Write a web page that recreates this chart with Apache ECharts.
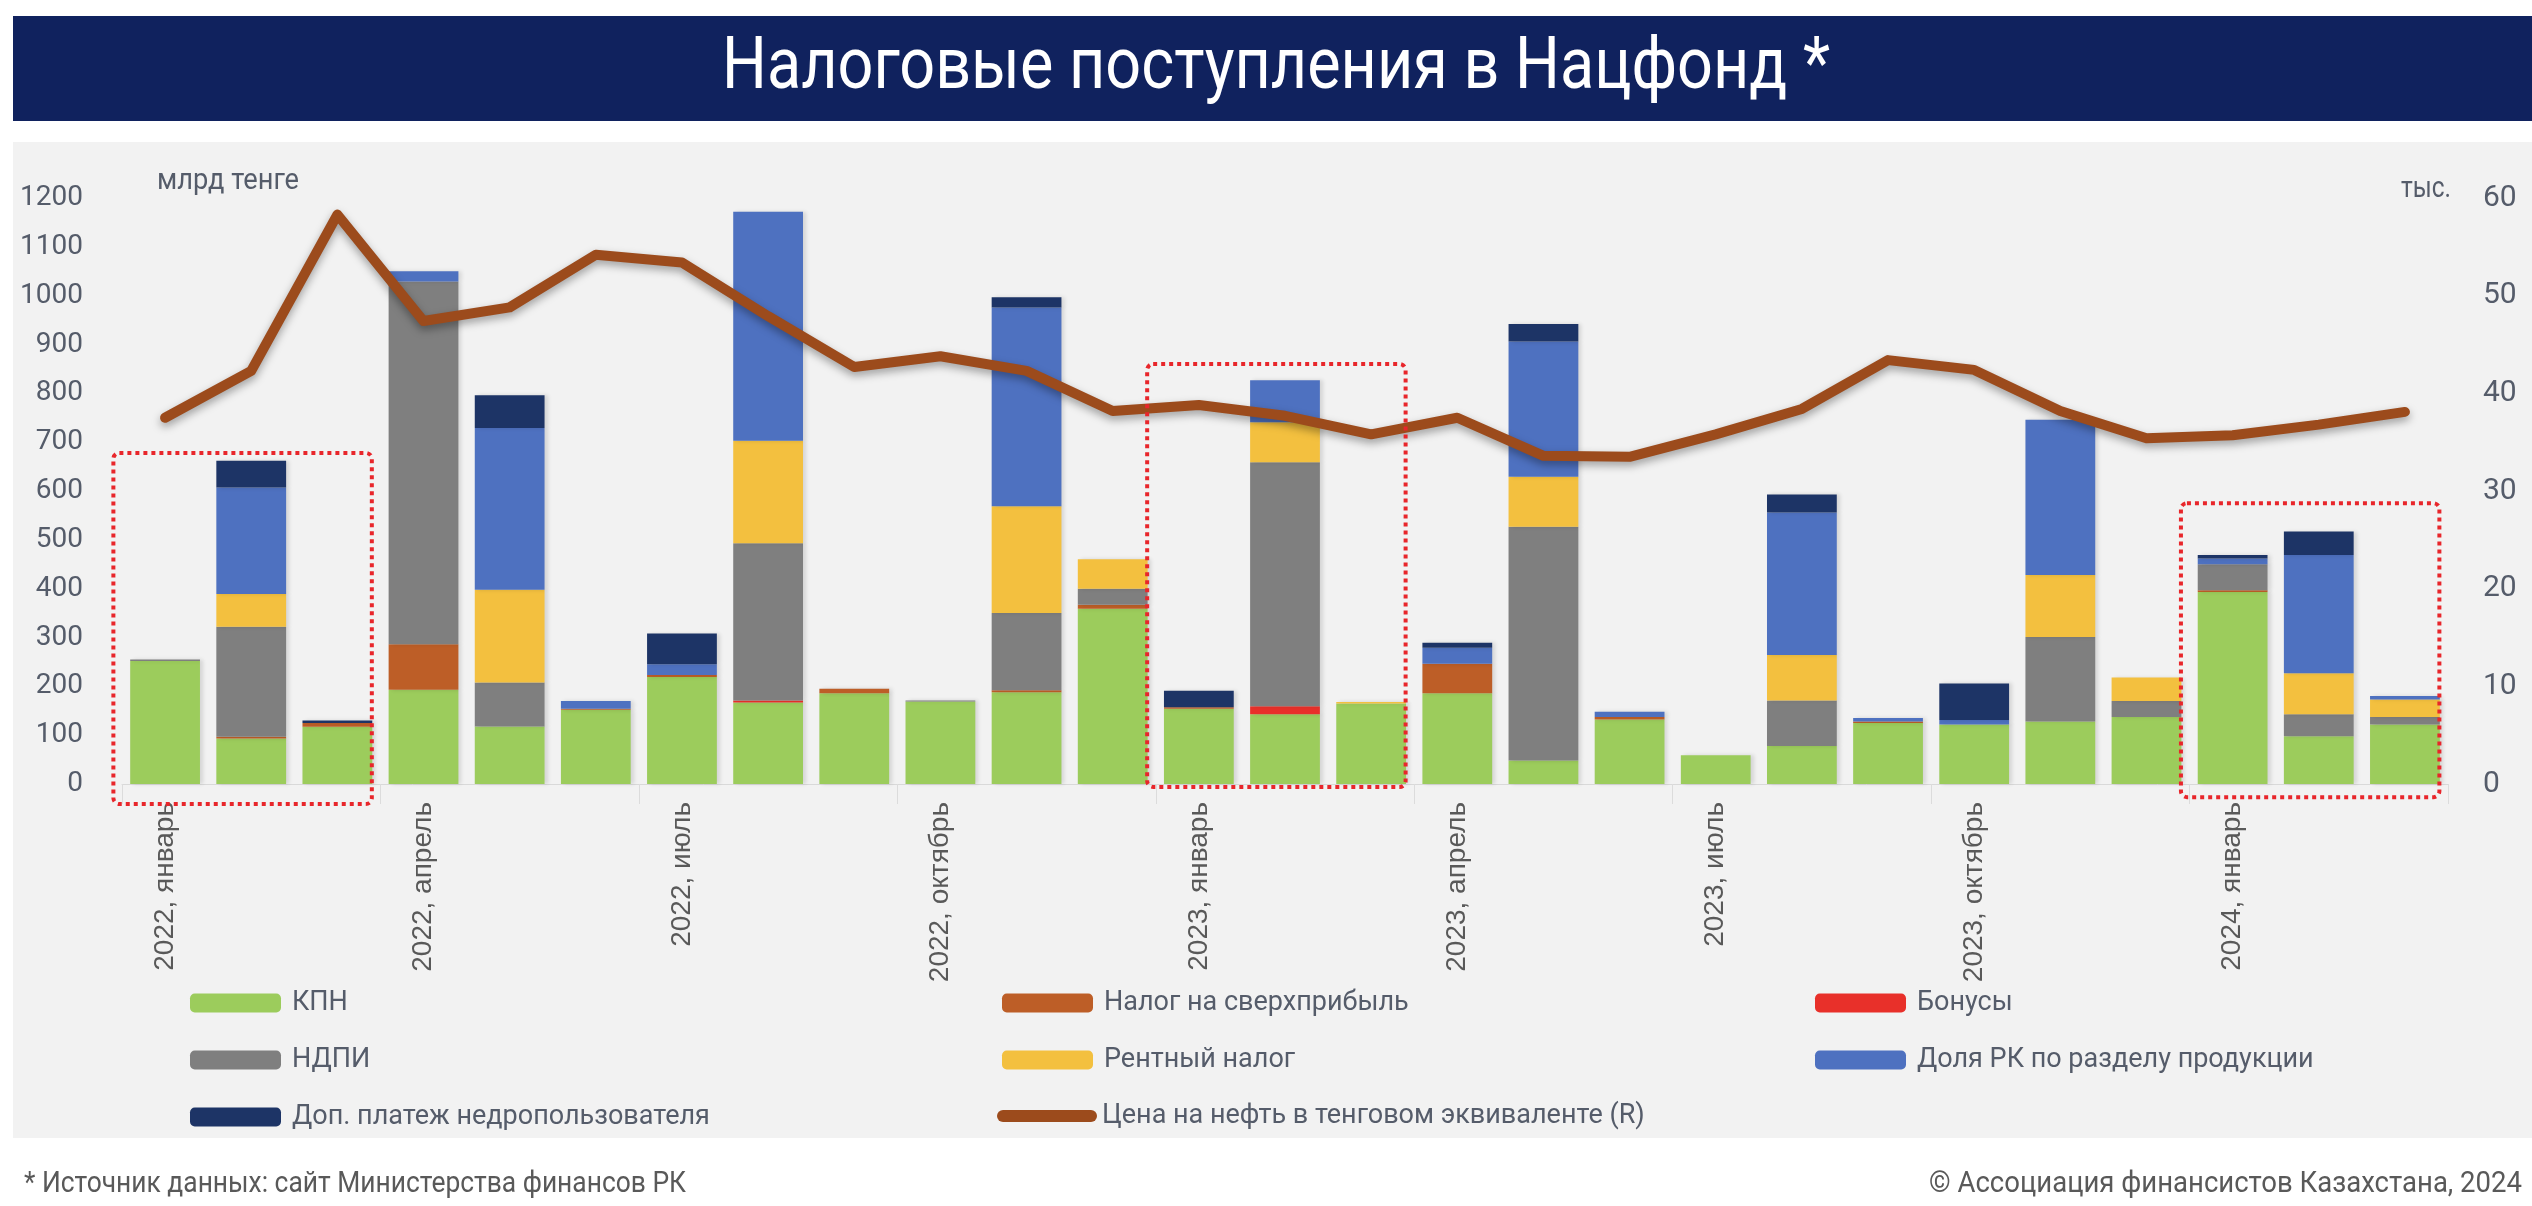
<!DOCTYPE html>
<html><head><meta charset="utf-8">
<script src="https://cdn.jsdelivr.net/npm/echarts@6/dist/echarts.min.js"></script>
<style>html,body{margin:0;padding:0;background:#fff;}#c{width:2532px;height:1206px;}</style>
</head><body><div id="c"></div>
<script>
// ---- DATA ----
const categories = [
 '2022, январь','2022, февраль','2022, март','2022, апрель','2022, май','2022, июнь',
 '2022, июль','2022, август','2022, сентябрь','2022, октябрь','2022, ноябрь','2022, декабрь',
 '2023, январь','2023, февраль','2023, март','2023, апрель','2023, май','2023, июнь',
 '2023, июль','2023, август','2023, сентябрь','2023, октябрь','2023, ноябрь','2023, декабрь',
 '2024, январь','2024, февраль','2024, март'];
const kpn       = [252, 93,117,193,118,152,219,167,186,169,188,359,154,143,165,186, 48,132, 59, 78,125,122,128,137,393, 98,122];
const superTax  = [  0,  4,  8, 93,  0,  2,  4,  0,  9,  0,  4,  8,  3,  0,  0, 60,  0,  5,  0,  0,  3,  0,  0,  0,  4,  0,  0];
const bonuses   = [  0,  0,  0,  0,  0,  0,  0,  4,  0,  0,  0,  0,  0, 16,  0,  0,  0,  0,  0,  0,  0,  0,  0,  0,  0,  0,  0];
const ndpi      = [  3,225,  0,743, 90,  0,  0,322,  0,  2,158, 33,  0,500,  0,  0,479,  0,  0, 93,  0,  0,173, 33, 53, 45, 15];
const rentTax   = [  0, 67,  0,  0,190,  0,  0,210,  0,  0,219, 60,  0, 82,  3,  0,102,  0,  0, 93,  0,  0,127, 48,  0, 84, 36];
const rkShare   = [  0,218,  0, 21,331, 16, 22,469,  0,  0,407,  0,  0, 86,  0, 33,277, 11,  0,292,  7,  9,318,  0, 12,242,  7];
const extraPay  = [  0, 55,  5,  0, 67,  0, 63,  0,  0,  0, 21,  0, 34,  0,  0, 10, 36,  0,  0, 37,  0, 75,  0,  0,  7, 48,  0];
const oilPrice  = [37.5,42.3,58.3,47.4,48.8,54.2,53.4,47.9,42.7,43.8,42.3,38.2,38.8,37.7,35.8,37.5,33.6,33.5,35.8,38.4,43.4,42.4,38.2,35.4,35.7,36.8,38.1];
const leftTicks = {min:0, max:1200, step:100};
const rightTicks = {min:0, max:60, step:10};
// highlighted periods: [first category, last category, top value, bottom value]
const boxStart = [0, 12, 24];
const boxEnd   = [2, 14, 26];
const boxTop   = [678, 860, 575];
const boxBottom= [-41, -6, -27];

const names = ['КПН','Налог на сверхприбыль','Бонусы','НДПИ','Рентный налог','Доля РК по разделу продукции','Доп. платеж недропользователя','Цена на нефть в тенговом эквиваленте (R)'];
const colors = ['#9ccc5c','#bd5e27','#e8302a','#7f7f7f','#f3c03f','#4e71c0','#1d3466','#9c4b1c'];
const stackData = [kpn, superTax, bonuses, ndpi, rentTax, rkShare, extraPay];

const FONT = "Roboto, 'Liberation Sans', sans-serif";
const TXT = '#555c6a';

// horizontal squeeze of free texts to imitate the condensed face
const mctx = document.createElement('canvas').getContext('2d');
function squeeze(text, size, target){
  mctx.font = size + 'px ' + FONT;
  return Math.min(1, target / mctx.measureText(text).width);
}
function freeText(text, x, y, size, target, align, fill){
  const s = squeeze(text, size, target);
  return {type:'text', z:5, silent:true, x:x, y:y, scaleX:s, scaleY:1,
    style:{text:text, fill:fill, font:size+'px '+FONT, textAlign:align, textVerticalAlign:'middle'}};
}

const chart = echarts.init(document.getElementById('c'), null, {renderer:'canvas'});

const series = stackData.map((d,i)=>({
  name: names[i], type:'bar', stack:'tax', data:d,
  barCategoryGap:'19%',
  itemStyle:{color:colors[i], shadowColor:'rgba(0,0,0,0.12)', shadowBlur:4, shadowOffsetX:3},
  emphasis:{disabled:true}
}));
series.push({
  name: names[7], type:'line', yAxisIndex:1, data: oilPrice,
  showSymbol:false, symbol:'none', z:10,
  itemStyle:{color:colors[7]},
  lineStyle:{color:colors[7], width:10, cap:'round', join:'round',
    shadowColor:'rgba(0,0,0,0.35)', shadowBlur:8, shadowOffsetY:4},
  emphasis:{disabled:true}
});

const legendBase = {
  orient:'vertical', itemWidth:91, itemHeight:19, itemGap:25, selectedMode:false,
  textStyle:{fontFamily:FONT, fontSize:27, color:TXT, lineHeight:32, padding:[0,0,0,6]}
};

const staticGraphic = [
  {type:'rect', z:-100, silent:true, shape:{x:13, y:142, width:2519, height:996}, style:{fill:'#f2f2f2'}},
  {type:'rect', z:-100, silent:true, shape:{x:13, y:16, width:2519, height:105}, style:{fill:'#10225e'}},
  freeText('Налоговые поступления в Нацфонд *', 1276, 70, 72, 1108, 'center', '#ffffff'),
  freeText('млрд тенге', 157, 181, 30, 142, 'left', TXT),
  freeText('тыс.', 2451, 189, 30, 50, 'right', TXT),
  freeText('* Источник данных: сайт Министерства финансов РК', 24, 1184, 30, 662, 'left', '#595959'),
  freeText('© Ассоциация финансистов Казахстана, 2024', 2522, 1184, 30, 593, 'right', '#595959')
];

const option = {
  backgroundColor:'#ffffff',
  animation:false,
  grid:{left:122, right:84, top:198, bottom:422, containLabel:false},
  xAxis:{type:'category', data:categories,
    axisLine:{show:true, lineStyle:{color:'#d9d9d9', width:1}},
    axisTick:{show:true, interval:2, length:20, lineStyle:{color:'#dcdcdc'}},
    axisLabel:{interval:2, rotate:90, margin:18, fontSize:28, color:'#595959',
      fontFamily:"'Liberation Sans',Arial,sans-serif"}
  },
  yAxis:[
    {type:'value', min:leftTicks.min, max:leftTicks.max, interval:leftTicks.step,
     splitLine:{show:false}, axisLine:{show:false}, axisTick:{show:false},
     axisLabel:{margin:39, fontSize:28, color:TXT, fontFamily:FONT, formatter:v=>String(v)}},
    {type:'value', position:'right', min:rightTicks.min, max:rightTicks.max, interval:rightTicks.step,
     splitLine:{show:false}, axisLine:{show:false}, axisTick:{show:false},
     axisLabel:{margin:35, fontSize:30, color:TXT, fontFamily:FONT, formatter:v=>String(v)}}
  ],
  legend:[
    Object.assign({left:185, top:982, data:[names[0],names[3],names[6]]}, legendBase),
    Object.assign({left:997, top:982, data:[names[1],names[4]]}, legendBase),
    Object.assign({left:1810, top:982, data:[names[2],names[5]]}, legendBase),
    Object.assign({}, legendBase, {left:992, top:1095, itemWidth:100, itemHeight:12,
      data:[{name:names[7], icon:'path://M6,0 L94,0 A6,6 0 0 1 94,12 L6,12 A6,6 0 0 1 6,0 Z',
             itemStyle:{color:colors[7], borderWidth:0}}],
      textStyle:{fontFamily:FONT, fontSize:27, color:TXT, lineHeight:32, padding:[0,0,0,0]}})
  ],
  graphic: staticGraphic,
  series: series
};
chart.setOption(option);

// dotted highlight boxes, positioned via the axes
const p0 = chart.convertToPixel({xAxisIndex:0, yAxisIndex:0}, [0, 0]);
const p1 = chart.convertToPixel({xAxisIndex:0, yAxisIndex:0}, [1, 0]);
const band = p1[0] - p0[0];
const boxes = boxStart.map((s,i)=>{
  const a = chart.convertToPixel({xAxisIndex:0, yAxisIndex:0}, [s, boxTop[i]]);
  const b = chart.convertToPixel({xAxisIndex:0, yAxisIndex:0}, [boxEnd[i], boxBottom[i]]);
  const x1 = a[0] - 0.6*band, x2 = b[0] + 0.4*band;
  return {type:'rect', z:50, silent:true,
    shape:{x:x1, y:a[1], width:x2-x1, height:b[1]-a[1], r:6},
    style:{fill:'none', stroke:'#e8262b', lineWidth:4, lineDash:[4,4]}};
});
chart.setOption({graphic: staticGraphic.concat(boxes)}, {replaceMerge:['graphic']});
</script>
</body></html>
